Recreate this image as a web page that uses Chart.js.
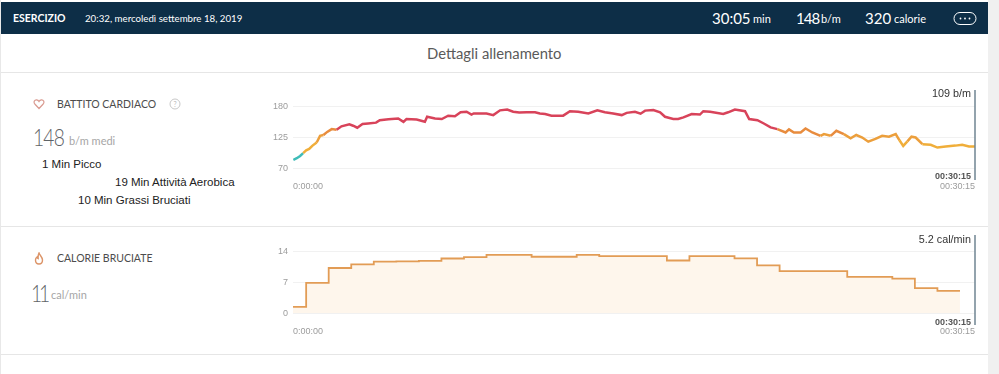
<!DOCTYPE html>
<html>
<head>
<meta charset="utf-8">
<script src="https://cdn.jsdelivr.net/npm/chart.js@4"></script>
<style>
    html, body { margin: 0; padding: 0; background: #fff; overflow: hidden; }
    #page { position: relative; width: 999px; height: 374px; font-family: Lato, sans-serif; overflow: hidden; }
    #page div, #page span.t, #page svg, #page canvas { position: absolute; }
    .t { line-height: 16px; height: 16px; white-space: nowrap; }
    .h { color: #fff; }
    .u { font-size: 11px; }
    .sec { font-size: 10.5px; color: #4c4c4c; }
    .big { font-size: 24px; font-weight: 300; color: #5f6468; line-height: 28px; height: 28px; transform-origin: left center; transform: scaleX(0.8); }
    .sub { font-size: 11px; color: #a6a6a6; }
    .arial { font-family: "Liberation Sans", sans-serif; font-size: 11.5px; color: #222; }
    .rule { left: 1px; width: 987px; height: 1px; background: #e6e6e6; }
</style>
</head>
<body>
<div id="page">
    <div style="left:988px;top:0;width:11px;height:374px;background:#f0f0f0"></div>
    <div style="left:0;top:0;width:1px;height:374px;background:#e8e8e8"></div>
    <div style="left:1px;top:2px;width:987px;height:32px;background:#0d2e47"></div>

    <span class="t h" style="left:13px;top:10px;font-size:10.5px;font-weight:700">ESERCIZIO</span>
    <span class="t h" style="left:85px;top:10px;font-size:9.7px">20:32, mercoledì settembre 18, 2019</span>
    <span class="t h" style="left:712px;top:10px;font-size:15px">30:05</span>
    <span class="t h u" style="left:753px;top:11px">min</span>
    <span class="t h" style="left:796px;top:10px;font-size:15px;letter-spacing:-1px">148</span>
    <span class="t h u" style="left:821px;top:11px">b/m</span>
    <span class="t h" style="left:865px;top:10px;font-size:15px">320</span>
    <span class="t h u" style="left:894px;top:11px">calorie</span>
    <svg style="left:953px;top:11px" width="24" height="15" viewBox="0 0 24 15">
        <rect x="1" y="1.5" width="22" height="12" rx="6" fill="none" stroke="#fff"/>
        <circle cx="7.5" cy="7.5" r="0.9" fill="#fff"/><circle cx="12" cy="7.5" r="0.9" fill="#fff"/><circle cx="16.5" cy="7.5" r="0.9" fill="#fff"/>
    </svg>

    <span class="t" style="left:427px;top:45px;font-size:14.8px;color:#5a5a5a">Dettagli allenamento</span>
    <div class="rule" style="top:72px"></div>
    <div class="rule" style="top:226px"></div>
    <div class="rule" style="top:354px"></div>

    <svg style="left:33px;top:98px" width="12" height="12" viewBox="0 0 12 12">
        <path d="M6 10.5 L1.8 6 C0.2 4 1.6 1.6 3.6 1.8 C4.8 1.9 5.6 2.7 6 3.5 C6.4 2.7 7.2 1.9 8.4 1.8 C10.4 1.6 11.8 4 10.2 6 Z" fill="none" stroke="#d99a90" stroke-width="1.2"/>
    </svg>
    <span class="t sec" style="left:57px;top:96px">BATTITO CARDIACO</span>
    <svg style="left:169px;top:98px" width="12" height="12" viewBox="0 0 12 12">
        <circle cx="6" cy="6" r="5" fill="none" stroke="#c8c8c8"/>
        <text x="6" y="8.5" font-size="7" text-anchor="middle" fill="#bbb" font-family="Lato">?</text>
    </svg>
    <span class="t big" style="left:33px;top:123px;letter-spacing:-1px">148</span>
    <span class="t sub" style="left:69px;top:133px">b/m medi</span>
    <span class="t arial" style="left:42px;top:156px">1 Min Picco</span>
    <span class="t arial" style="left:115px;top:174px">19 Min Attività Aerobica</span>
    <span class="t arial" style="left:78px;top:192px">10 Min Grassi Bruciati</span>

    <svg style="left:33px;top:252px" width="12" height="13" viewBox="0 0 12 13">
        <path d="M6 1 C6.5 3 9.5 5 9.5 8 C9.5 10.4 8 12 6 12 C4 12 2.5 10.4 2.5 8 C2.5 6.5 3.2 5.6 4 5 C4.2 6 4.6 6.4 5.2 6.6 C5 4.6 5.2 2.6 6 1 Z" fill="none" stroke="#dc9468" stroke-width="1.4"/>
    </svg>
    <span class="t sec" style="left:57px;top:250px">CALORIE BRUCIATE</span>
    <span class="t big" style="left:31px;top:279px;letter-spacing:-4px">11</span>
    <span class="t sub" style="left:51px;top:287px">cal/min</span>

    <canvas id="hrCanvas" width="715" height="110" style="left:270px;top:85px"></canvas>
    <canvas id="calCanvas" width="715" height="110" style="left:270px;top:230px"></canvas>
</div>

<script>
// heart rate (seconds from start / b/m)
const hrSeconds = [
    1, 10, 19, 27, 35, 43, 52, 63, 72, 81, 91, 103, 116, 129, 150, 160, 171, 185, 200, 221,
    231, 254, 280, 294, 302, 329, 351, 357, 378, 396, 413, 431, 446, 462, 475, 481, 515, 533, 551, 570,
    586, 602, 622, 644, 657, 671, 688, 719, 737, 759, 786, 810, 830, 852, 875, 888, 910, 925, 937, 959,
    977, 990, 1012, 1025, 1039, 1061, 1083, 1092, 1110, 1145, 1158, 1176, 1203, 1214, 1236, 1253, 1271, 1289, 1311, 1320,
    1333, 1351, 1364, 1382, 1404, 1413, 1431, 1446, 1466, 1484, 1499, 1515, 1531, 1550, 1568, 1586, 1604, 1614, 1624, 1635,
    1646, 1657, 1675, 1697, 1715, 1737, 1763, 1781, 1799, 1815
];
const hrValues = [
    85, 88, 92, 97, 102, 104.5, 110.5, 116, 128, 129.5, 135, 140, 139, 145, 148.5, 146, 142.5, 149, 150, 151.5,
    156, 157.5, 159, 153, 158, 157, 153, 162, 159, 158, 164, 163, 170, 171, 166, 168, 168, 165, 173.5, 175,
    171, 169.5, 170, 170, 168, 167, 164, 164, 172, 171, 168, 173.5, 170, 168, 165, 169, 171, 167.5, 173, 174,
    170, 162, 158, 158, 161, 167, 166, 172, 171, 167, 170, 175, 172, 158, 156, 150, 143, 140, 134, 139.5,
    134, 134, 141, 134, 128, 131, 128, 137, 131, 123.5, 129.5, 125, 117.5, 122.5, 128, 126.5, 131, 120, 110, 118,
    126.5, 125, 113, 112, 107, 109, 110.5, 112, 109, 109
];
const hrTicks = [70, 125, 180];

// calories per minute, value holds until the next breakpoint
const calSeconds = [0, 35, 95, 155, 215, 275, 335, 395, 455, 515, 635, 755, 815, 995, 1055, 1175, 1235, 1295, 1475, 1595, 1655, 1715, 1775];
const calValues = [1.45, 6.9, 10.3, 11.1, 11.75, 11.8, 11.9, 12.45, 12.75, 13.3, 12.85, 13.3, 13, 12, 13, 12.5, 10.9, 9.6, 8.3, 7.9, 5.7, 5.1, 5.1];
const calTicks = [0, 7, 14];

const timeTicks = [0, 1815];
const timeLabels = ["0:00:00", "00:30:15"];

function zoneColor(value) {
    if (value < 97) return "#3fbcb8";
    if (value < 118) return "#f0ae3a";
    if (value < 130) return "#ec9f3c";
    if (value < 141) return "#e88c3e";
    return "#d8435a";
}

// end marker at the last second, with its two labels
const cursorPlugin = {
    id: "cursor",
    afterDraw(chart, args, opts) {
        const ctx = chart.ctx;
        const x = chart.scales.x.getPixelForValue(timeTicks[1]);
        ctx.save();
        ctx.strokeStyle = "#6f8592";
        ctx.lineWidth = 1.5;
        ctx.beginPath();
        ctx.moveTo(x, opts.top);
        ctx.lineTo(x, opts.bottom);
        ctx.stroke();
        ctx.textAlign = "right";
        ctx.textBaseline = "middle";
        ctx.font = '10.8px "Liberation Sans"';
        ctx.fillStyle = "#333";
        ctx.fillText(opts.label, x - 4, opts.labelY);
        ctx.font = 'bold 9px "Liberation Sans"';
        ctx.fillStyle = "#555";
        ctx.fillText(timeLabels[1], x - 4, opts.timeY);
        ctx.restore();
    },
};

function makeOptions(yMin, yMax, yTicks, cursor) {
    return {
        responsive: false,
        animation: false,
        events: [],
        layout: { padding: { top: 21.7, right: 10, left: 0, bottom: 0 } },
        plugins: { legend: { display: false }, tooltip: { enabled: false }, cursor: cursor },
        scales: {
            x: {
                type: "linear",
                min: timeTicks[0],
                max: timeTicks[1],
                afterBuildTicks: (axis) => { axis.ticks = timeTicks.map((v) => ({ value: v })); },
                afterFit: (axis) => { axis.height = 26.7; },
                grid: { display: false },
                border: { display: false },
                ticks: {
                    align: "inner",
                    maxRotation: 0,
                    autoSkip: false,
                    padding: 5,
                    color: "#9c9c9c",
                    font: { family: "Liberation Sans", size: 9 },
                    callback: (value) => timeLabels[timeTicks.indexOf(value)],
                },
            },
            y: {
                min: yMin,
                max: yMax,
                afterBuildTicks: (axis) => { axis.ticks = yTicks.map((v) => ({ value: v })); },
                afterFit: (axis) => { axis.width = 23; },
                grid: { color: "#f1f1f1", drawTicks: false },
                border: { display: false },
                ticks: {
                    padding: 5,
                    color: "#9c9c9c",
                    font: { family: "Liberation Sans", size: 9 },
                },
            },
        },
    };
}

new Chart(document.getElementById("hrCanvas"), {
    type: "line",
    plugins: [cursorPlugin],
    data: {
        datasets: [{
            data: hrSeconds.map((s, i) => ({ x: s, y: hrValues[i] })),
            borderWidth: 2.5,
            pointRadius: 0,
            tension: 0,
            segment: { borderColor: (ctx) => zoneColor((ctx.p0.parsed.y + ctx.p1.parsed.y) / 2) },
        }],
    },
    options: makeOptions(hrTicks[0], hrTicks[2], hrTicks, { top: 5, bottom: 95, label: "109 b/m", labelY: 9, timeY: 92 }),
});

new Chart(document.getElementById("calCanvas"), {
    type: "line",
    plugins: [cursorPlugin],
    data: {
        datasets: [{
            data: calSeconds.map((s, i) => ({ x: s, y: calValues[i] })),
            stepped: true,
            borderColor: "#e29c55",
            backgroundColor: "#fef6ec",
            borderWidth: 1.8,
            pointRadius: 0,
            fill: "origin",
        }],
    },
    options: makeOptions(calTicks[0], calTicks[2], calTicks, { top: 5, bottom: 95, label: "5.2 cal/min", labelY: 10, timeY: 93 }),
});
</script>
</body>
</html>
